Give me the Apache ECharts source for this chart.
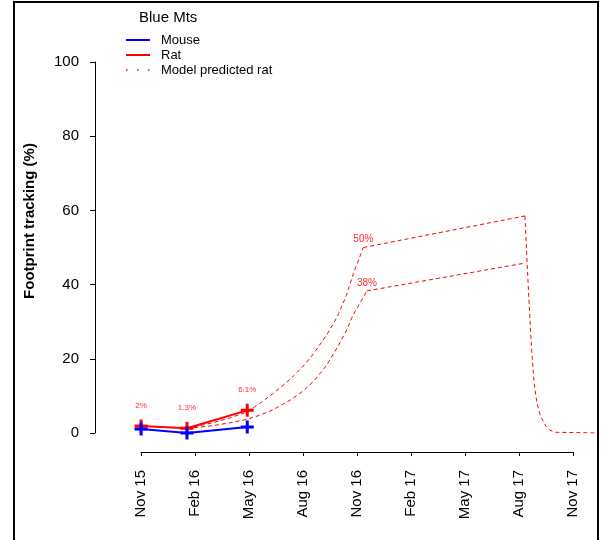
<!DOCTYPE html>
<html>
  <head>
    <meta charset="UTF-8" />
    <title>Blue Mts</title>
    <style>
      html, body { margin: 0; padding: 0; background: #fff; }
      #chart { width: 603px; height: 540px; }
    </style>
    <script src="https://cdn.jsdelivr.net/npm/echarts@6/dist/echarts.min.js"></script>
  </head>
  <body>
    <div id="chart"></div>
    <script>
      // months since Nov 2015
      var tickLabels = ['Nov 15', 'Feb 16', 'May 16', 'Aug 16', 'Nov 16', 'Feb 17', 'May 17', 'Aug 17', 'Nov 17'];

      var surveyMonths = [0, 2.55, 5.9];
      var mouseValues = [1.1, 0, 1.6];
      var ratValues = [1.9, 1.3, 6.1];
      var ratLabels = ['2%', '1.3%', '6.1%'];

      // model predicted rat, upper and lower scenario
      var upperRise = [[2.55, 1.3], [3.3, 2.0], [4.0, 2.8], [4.9, 4.0], [5.9, 5.7], [6.6, 8.0], [7.3, 10.5], [8.0, 13.3],
        [8.5, 15.5], [9.1, 18.5], [9.6, 21.5], [10.3, 26.3], [10.9, 31.3], [11.4, 37], [11.8, 43], [12.35, 50]];
      var lowerRise = [[2.55, 1.3], [3.3, 1.6], [4.0, 2.0], [5.0, 2.8], [5.9, 3.7], [6.6, 4.8], [7.3, 6.2], [8.3, 8.9],
        [9.0, 11.3], [9.6, 14.0], [10.3, 18.2], [10.9, 23], [11.4, 27.5], [11.8, 32], [12.55, 38.3]];
      var upperPlateau = [[12.35, 50], [21.33, 58.5]];
      var lowerPlateau = [[12.55, 38.3], [21.33, 45.8]];
      var drop = [[21.33, 58.5], [21.45, 46], [21.55, 36], [21.65, 27], [21.75, 19], [21.85, 13], [22.0, 8], [22.15, 5.3],
        [22.3, 3.5], [22.5, 1.8], [22.7, 0.8], [23.0, 0.2], [25.39, 0]];
      var peakLabels = ['50%', '38%'];

      var plusPath = 'path://M5,0H8V5H13V8H8V13H5V8H0V5H5Z';
      var font = 'Liberation Sans, Arial, sans-serif';

      function pairs(xs, ys) {
        return xs.map(function (x, i) { return [x, ys[i]]; });
      }

      function dashed(data, peakText) {
        var s = {
          name: 'Model predicted rat',
          type: 'line',
          xAxisIndex: 0,
          yAxisIndex: 0,
          data: data,
          symbol: 'none',
          silent: true,
          lineStyle: { color: '#ff0000', width: 1, type: [4, 3] },
          z: 2
        };
        if (peakText) {
          s.markPoint = {
            symbol: 'circle',
            symbolSize: 0,
            silent: true,
            label: { show: true, position: 'top', distance: 3, color: '#ff2a2a', fontSize: 10, fontFamily: font, formatter: '{b}' },
            data: [{ name: peakText, coord: data[data.length - 1] }]
          };
        }
        return s;
      }

      var chart = echarts.init(document.getElementById('chart'));

      chart.setOption({
        animation: false,
        backgroundColor: '#fff',
        grid: [
          { left: 95, top: 62, width: 503, height: 371 },
          { left: 141, top: 451, width: 432, height: 1 }
        ],
        xAxis: [
          { gridIndex: 0, type: 'value', min: -2.56, max: 25.39, show: false },
          {
            gridIndex: 1, type: 'value', min: 0, max: 24, interval: 3, position: 'bottom',
            axisLine: { show: true, onZero: false, lineStyle: { color: '#000', width: 1 } },
            axisTick: { show: true, length: 4, lineStyle: { color: '#000' } },
            splitLine: { show: false },
            axisLabel: {
              rotate: 90, margin: 18, color: '#000', fontSize: 15, fontFamily: font,
              formatter: function (v) { return tickLabels[Math.round(v / 3)]; }
            }
          }
        ],
        yAxis: [
          {
            gridIndex: 0, type: 'value', min: 0, max: 100, interval: 20, position: 'left',
            axisLine: { show: true, onZero: false, lineStyle: { color: '#000', width: 1 } },
            axisTick: { show: true, length: 5, lineStyle: { color: '#000' } },
            splitLine: { show: false },
            axisLabel: { margin: 16, color: '#000', fontSize: 15, fontFamily: font }
          },
          { gridIndex: 1, type: 'value', show: false }
        ],
        graphic: [
          {
            type: 'rect', silent: true,
            shape: { x: 14, y: 2, width: 584, height: 600 },
            style: { fill: 'none', stroke: '#000', lineWidth: 2 }
          },
          {
            type: 'text', silent: true, x: 30, y: 221, rotation: Math.PI / 2,
            style: { text: 'Footprint tracking (%)', font: 'bold 15px ' + font, fill: '#000', align: 'center', verticalAlign: 'middle' }
          },
          {
            type: 'text', silent: true, x: 139, y: 18,
            style: { text: 'Blue Mts', font: '15px ' + font, fill: '#000', verticalAlign: 'middle' }
          },
          { type: 'line', silent: true, shape: { x1: 126, y1: 40, x2: 150, y2: 40 }, style: { stroke: '#0000ff', lineWidth: 2 } },
          { type: 'line', silent: true, shape: { x1: 126, y1: 55, x2: 150, y2: 55 }, style: { stroke: '#ff0000', lineWidth: 2 } },
          { type: 'line', silent: true, shape: { x1: 126, y1: 70, x2: 150, y2: 70 }, style: { stroke: '#ff0000', lineWidth: 1.5, lineDash: [1.5, 9.5] } },
          { type: 'text', silent: true, x: 161, y: 40, style: { text: 'Mouse', font: '13px ' + font, fill: '#000', verticalAlign: 'middle' } },
          { type: 'text', silent: true, x: 161, y: 55, style: { text: 'Rat', font: '13px ' + font, fill: '#000', verticalAlign: 'middle' } },
          { type: 'text', silent: true, x: 161, y: 70, style: { text: 'Model predicted rat', font: '13px ' + font, fill: '#000', verticalAlign: 'middle' } }
        ],
        series: [
          dashed(upperRise, peakLabels[0]),
          dashed(lowerRise, peakLabels[1]),
          dashed(upperPlateau),
          dashed(lowerPlateau),
          dashed(drop),
          {
            name: 'Rat',
            type: 'line',
            xAxisIndex: 0,
            yAxisIndex: 0,
            data: pairs(surveyMonths, ratValues),
            symbol: plusPath,
            symbolSize: 13,
            itemStyle: { color: '#ff0000' },
            lineStyle: { color: '#ff0000', width: 2 },
            label: {
              show: true, position: 'top', distance: 10, color: '#ff2a2a', fontSize: 8, fontFamily: font,
              formatter: function (p) { return ratLabels[p.dataIndex]; }
            },
            z: 3
          },
          {
            name: 'Mouse',
            type: 'line',
            xAxisIndex: 0,
            yAxisIndex: 0,
            data: pairs(surveyMonths, mouseValues),
            symbol: plusPath,
            symbolSize: 13,
            itemStyle: { color: '#0000ff' },
            lineStyle: { color: '#0000ff', width: 2 },
            z: 4
          }
        ]
      });
    </script>
  </body>
</html>
